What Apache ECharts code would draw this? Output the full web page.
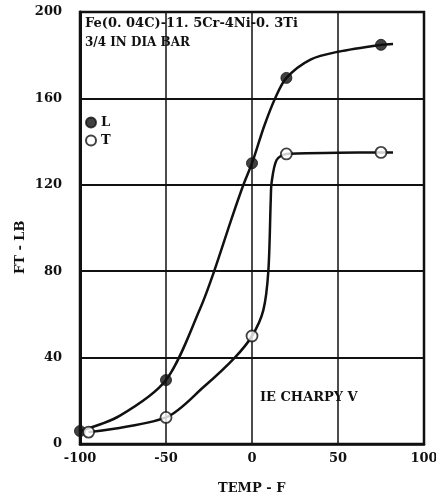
<!DOCTYPE html>
<html>
<head>
<meta charset="utf-8">
<script src="https://cdn.jsdelivr.net/npm/echarts@6/dist/echarts.min.js"></script>
<style>
  html, body { margin: 0; padding: 0; background: #fff; }
  #chart { width: 436px; height: 504px; }
</style>
</head>
<body>
<div id="chart"></div>
<script>
// measured points (temp F, ft-lb)
const pointsL = [[-100, 6], [-50, 29.6], [0, 130], [20, 169.5], [75, 184.8]];
const pointsT = [[-95, 5.5], [-50, 12.3], [0, 50], [20, 134.3], [75, 135]];

// hand-drawn fit curves
const curveL = [[-100, 6], [-77, 13], [-50, 29.6], [-30, 63], [-22, 80], [-12, 104],
  [-5, 120], [0, 130], [7, 147], [13.4, 160], [20, 169.5], [34, 178], [50, 181.6], [75, 184.8], [82, 185.2]];
const curveT = [[-95, 5.5], [-50, 12.3], [-28, 26.5], [-10, 40], [0, 50], [6.6, 62], [9.5, 80],
  [10.9, 113], [11.4, 121], [14.3, 131.5], [20, 134.3], [50, 134.8], [75, 135], [82, 135]];

const xTicks = [-100, -50, 0, 50, 100];
const yTicks = [0, 40, 80, 120, 160, 200];

const FONT = 'DejaVu Serif';

let chart = echarts.init(document.getElementById('chart'));
chart.setOption({
  animation: false,
  grid: { left: 80, right: 12, top: 12, bottom: 60, outerBoundsMode: 'none' },
  textStyle: { fontFamily: FONT, color: '#111' },
  legend: {
    orient: 'vertical',
    left: 80,
    top: 111,
    itemWidth: 10,
    itemHeight: 10,
    itemGap: 5,
    icon: 'circle',
    textStyle: { fontFamily: FONT, fontSize: 13, fontWeight: 'bold', color: '#111' },
    data: ['L', 'T']
  },
  xAxis: {
    type: 'value',
    min: xTicks[0],
    max: xTicks[xTicks.length - 1],
    interval: 50,
    axisLine: { onZero: false, lineStyle: { color: '#111', width: 2.5 } },
    axisTick: { show: false },
    axisLabel: { fontFamily: FONT, fontSize: 13, fontWeight: 'bold', color: '#111', margin: 8 },
    splitLine: { lineStyle: { color: '#111', width: 1.5 } }
  },
  yAxis: {
    type: 'value',
    min: yTicks[0],
    max: yTicks[yTicks.length - 1],
    interval: 40,
    axisLine: { show: true, onZero: false, lineStyle: { color: '#111', width: 3 } },
    axisTick: { show: false },
    axisLabel: { fontFamily: FONT, fontSize: 13, fontWeight: 'bold', color: '#111', margin: 18 },
    splitLine: { lineStyle: { color: '#111', width: 2 } }
  },
  graphic: [
    { type: 'rect', shape: { x: 80, y: 12, width: 344, height: 432 },
      style: { fill: 'none', stroke: '#111', lineWidth: 2.5 }, silent: true },
    { type: 'text', left: 85, top: 17,
      style: { text: 'Fe(0. 04C)-11. 5Cr-4Ni-0. 3Ti', font: 'bold 13px "DejaVu Serif"', fill: '#111' } },
    { type: 'text', left: 85, top: 37,
      style: { text: '3/4 IN DIA BAR', font: 'bold 12px "DejaVu Serif"', fill: '#111' } },
    { type: 'text', left: 260, top: 391,
      style: { text: 'IE CHARPY V', font: 'bold 13px "DejaVu Serif"', fill: '#111' } },
    { type: 'text', left: 218, top: 482,
      style: { text: 'TEMP - F', font: 'bold 13px "DejaVu Serif"', fill: '#111' } },
    { type: 'text', x: 14, y: 274, rotation: Math.PI / 2,
      style: { text: 'FT - LB', font: 'bold 13px "DejaVu Serif"', fill: '#111' } }
  ],
  series: [
    {
      type: 'line', data: curveL, smooth: 0.3, showSymbol: false,
      lineStyle: { color: '#111', width: 2.5 }, silent: true
    },
    {
      type: 'line', data: curveT, smooth: 0.3, showSymbol: false,
      lineStyle: { color: '#111', width: 2.5 }, silent: true
    },
    {
      name: 'L', type: 'scatter', data: pointsL, symbolSize: 11,
      itemStyle: { color: '#111', borderColor: '#111', borderWidth: 1 }, z: 5
    },
    {
      name: 'T', type: 'scatter', data: pointsT, symbolSize: 11,
      itemStyle: { color: '#fff', borderColor: '#111', borderWidth: 1.8 }, z: 5
    }
  ]
});
</script>
</body>
</html>
